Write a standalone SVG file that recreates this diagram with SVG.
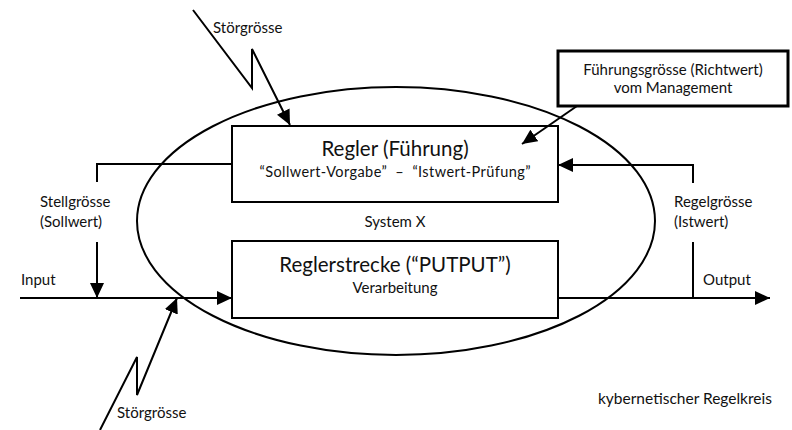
<svg xmlns="http://www.w3.org/2000/svg" width="792" height="430" viewBox="0 0 792 430">
  <style>
    .ln { fill: none; stroke: #000; stroke-width: 2; }
    .box { fill: #fff; stroke: #000; stroke-width: 2; }
    .thick { fill: #fff; stroke: #000; stroke-width: 3; }
    text { font-family: Lato, "Open Sans", "DejaVu Sans", sans-serif; fill: #111; }
    .lbl { font-size: 15px; }
    .mid { text-anchor: middle; }
    .big { font-size: 20.5px; }
    .sm { font-size: 14.5px; }
  </style>
  <defs>
    <marker id="arrow" markerUnits="userSpaceOnUse" markerWidth="16" markerHeight="14" refX="15" refY="7" orient="auto">
      <path d="M0,0 L15,7 L0,14 Z" fill="#000"/>
    </marker>
  </defs>

  <rect width="792" height="430" fill="#fff"/>

  <!-- system boundary -->
  <g id="system">
    <ellipse cx="396" cy="221" rx="259" ry="134" fill="none" stroke="#000" stroke-width="2"/>
    <text class="lbl mid" x="395" y="227">System X</text>
  </g>

  <g id="regler">
    <rect class="box" x="232" y="126" width="326" height="76"/>
    <text class="big mid" x="395" y="156">Regler (Führung)</text>
    <text class="sm mid" x="395" y="177" textLength="271" lengthAdjust="spacing" xml:space="preserve">“Sollwert-Vorgabe”  –  “Istwert-Prüfung”</text>
  </g>

  <g id="strecke">
    <rect class="box" x="232" y="241" width="326" height="77"/>
    <text class="big mid" x="395" y="272">Reglerstrecke (“PUTPUT”)</text>
    <text class="lbl mid" x="395" y="293">Verarbeitung</text>
  </g>

  <g id="fuehrungsgroesse">
    <rect class="thick" x="558" y="51" width="230" height="55"/>
    <text class="lbl mid" x="673" y="75">Führungsgrösse (Richtwert)</text>
    <text class="lbl mid" x="673" y="93">vom Management</text>
  </g>

  <g id="connectors">
    <!-- Stellgrösse: from controller down to input -->
    <polyline class="ln" points="232,164 97,164 97,182"/>
    <line class="ln" x1="97" y1="242" x2="97" y2="298" marker-end="url(#arrow)"/>
    <!-- input -->
    <line class="ln" x1="20" y1="298" x2="232" y2="298" marker-end="url(#arrow)"/>
    <!-- output -->
    <line class="ln" x1="558" y1="298" x2="770" y2="298" marker-end="url(#arrow)"/>
    <!-- Regelgrösse: feedback to controller -->
    <line class="ln" x1="693" y1="298" x2="693" y2="242"/>
    <polyline class="ln" points="693,183 693,165 558,165" marker-end="url(#arrow)"/>
    <!-- reference value from management -->
    <line class="ln" x1="577" y1="106" x2="522" y2="144" marker-end="url(#arrow)"/>
    <!-- disturbances -->
    <polyline class="ln" points="193,10 252,88 252,49 290,125" marker-end="url(#arrow)"/>
    <polyline class="ln" points="100,430 137,357 137,395 177,298" marker-end="url(#arrow)"/>
  </g>

  <g id="labels">
    <text class="lbl" x="213" y="33">Störgrösse</text>
    <text class="lbl" x="117" y="418">Störgrösse</text>
    <text class="lbl" x="40" y="207">Stellgrösse</text>
    <text class="lbl" x="40" y="227">(Sollwert)</text>
    <text class="lbl" x="21" y="285">Input</text>
    <text class="lbl" x="674" y="207">Regelgrösse</text>
    <text class="lbl" x="674" y="227">(Istwert)</text>
    <text class="lbl" x="703" y="285">Output</text>
    <text x="598" y="404" font-size="15.5">kybernetischer Regelkreis</text>
  </g>
</svg>
